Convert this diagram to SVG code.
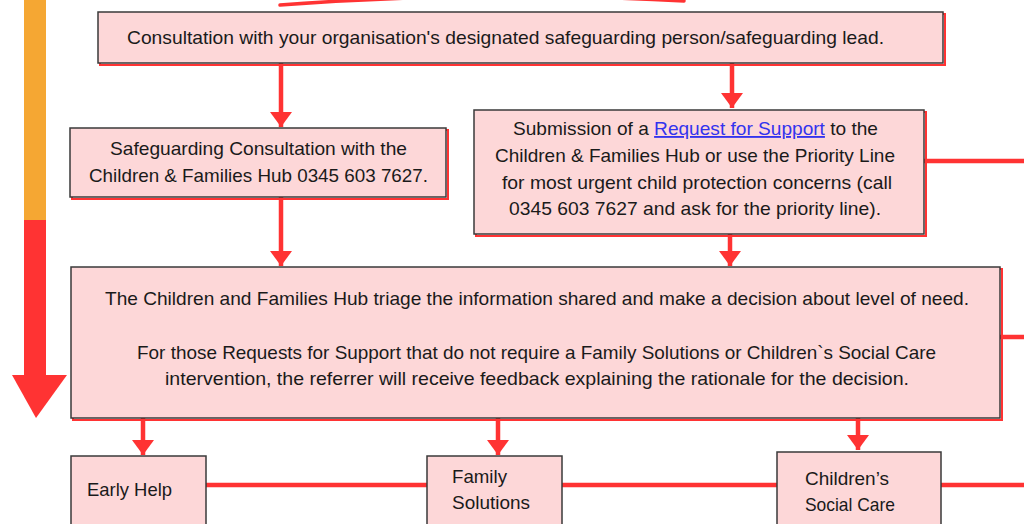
<svg xmlns="http://www.w3.org/2000/svg" width="1024" height="524" viewBox="0 0 1024 524">
<defs>
<style>
.box{fill:#FDD7D8;stroke:#3a3a3a;stroke-width:1.5}
.sh{fill:none;stroke:#FF3333;stroke-width:2}
.t{font-family:"Liberation Sans",Arial,sans-serif;font-size:18.5px;fill:#1a1a1a}
.lnk{fill:#3333EE;text-decoration:underline}
.c{stroke:#FF3333;stroke-width:4.5;fill:none}
</style>
<marker id="ah" markerUnits="userSpaceOnUse" markerWidth="16" markerHeight="24" viewBox="0 -12 16 24" refX="15" refY="0" orient="auto">
<path d="M0,-11 L15,0 L0,11 z" fill="#FF3333"/>
</marker>
</defs>
<rect width="1024" height="524" fill="#fff"/>
<g id="progress-bar">
<rect x="24" y="0" width="22" height="221" fill="#F5A733"/>
<rect x="24" y="220" width="22" height="156" fill="#FF3333"/>
<polygon points="12,375 67,375 36,418" fill="#FF3333"/>
</g>
<path d="M280,5 Q480,-10 684,1" stroke="#FF3333" stroke-width="3.5" fill="none" stroke-linecap="round"/>
<g id="connectors">
<line class="c" x1="281" y1="63" x2="281" y2="127" marker-end="url(#ah)"/>
<line class="c" x1="281" y1="197" x2="281" y2="266" marker-end="url(#ah)"/>
<line class="c" x1="732" y1="63" x2="732" y2="108" marker-end="url(#ah)"/>
<line class="c" x1="730" y1="234" x2="730" y2="266" marker-end="url(#ah)"/>
<line class="c" x1="143" y1="418" x2="143" y2="455" marker-end="url(#ah)"/>
<line class="c" x1="498" y1="418" x2="498" y2="455" marker-end="url(#ah)"/>
<line class="c" x1="858" y1="418" x2="858" y2="450" marker-end="url(#ah)"/>
<line class="c" x1="924" y1="161" x2="1024" y2="161"/>
<line class="c" x1="1000" y1="337" x2="1024" y2="337"/>
<line class="c" x1="206" y1="485" x2="427" y2="485"/>
<line class="c" x1="562" y1="485" x2="777" y2="485"/>
<line class="c" x1="941" y1="485" x2="1024" y2="485"/>
</g>
<g id="consultation">
<rect class="sh" x="100" y="14" width="845" height="51"/>
<rect class="box" x="98" y="12" width="845" height="51"/>
<text class="t" x="127" y="44" textLength="757" lengthAdjust="spacingAndGlyphs">Consultation with your organisation's designated safeguarding person/safeguarding lead.</text>
</g>
<g id="safeguarding-consultation">
<rect class="sh" x="72" y="130" width="376" height="69"/>
<rect class="box" x="70" y="128" width="376" height="69"/>
<text class="t" x="110" y="155" textLength="297" lengthAdjust="spacingAndGlyphs">Safeguarding Consultation with the</text>
<text class="t" x="89" y="182" textLength="339" lengthAdjust="spacingAndGlyphs">Children &amp; Families Hub 0345 603 7627.</text>
</g>
<g id="request-for-support">
<rect class="sh" x="476" y="112" width="450" height="124"/>
<rect class="box" x="474" y="110" width="450" height="124"/>
<text class="t" x="513" y="135" textLength="365" lengthAdjust="spacingAndGlyphs">Submission of a <tspan class="lnk">Request for Support</tspan> to the</text>
<text class="t" x="495" y="162" textLength="400" lengthAdjust="spacingAndGlyphs">Children &amp; Families Hub or use the Priority Line</text>
<text class="t" x="502" y="189" textLength="390" lengthAdjust="spacingAndGlyphs">for most urgent child protection concerns (call</text>
<text class="t" x="509" y="215" textLength="372" lengthAdjust="spacingAndGlyphs">0345 603 7627 and ask for the priority line).</text>
</g>
<g id="triage">
<rect class="sh" x="73" y="269" width="929" height="151"/>
<rect class="box" x="71" y="267" width="929" height="151"/>
<text class="t" x="105" y="305" textLength="864" lengthAdjust="spacingAndGlyphs">The Children and Families Hub triage the information shared and make a decision about level of need.</text>
<text class="t" x="137" y="359" textLength="799" lengthAdjust="spacingAndGlyphs">For those Requests for Support that do not require a Family Solutions or Children`s Social Care</text>
<text class="t" x="165" y="385" textLength="744" lengthAdjust="spacingAndGlyphs">intervention, the referrer will receive feedback explaining the rationale for the decision.</text>
</g>
<g id="early-help">
<rect class="box" x="71" y="456" width="135" height="90"/>
<text class="t" x="87" y="496" textLength="85" lengthAdjust="spacingAndGlyphs">Early Help</text>
</g>
<g id="family-solutions">
<rect class="box" x="427" y="456" width="135" height="90"/>
<text class="t" x="452" y="483" textLength="55" lengthAdjust="spacingAndGlyphs">Family</text>
<text class="t" x="452" y="509" textLength="78" lengthAdjust="spacingAndGlyphs">Solutions</text>
</g>
<g id="childrens-social-care">
<rect class="box" x="777" y="452" width="164" height="90"/>
<text class="t" x="805" y="485" textLength="84" lengthAdjust="spacingAndGlyphs">Children’s</text>
<text class="t" x="805" y="511" textLength="90" lengthAdjust="spacingAndGlyphs">Social Care</text>
</g>
</svg>
